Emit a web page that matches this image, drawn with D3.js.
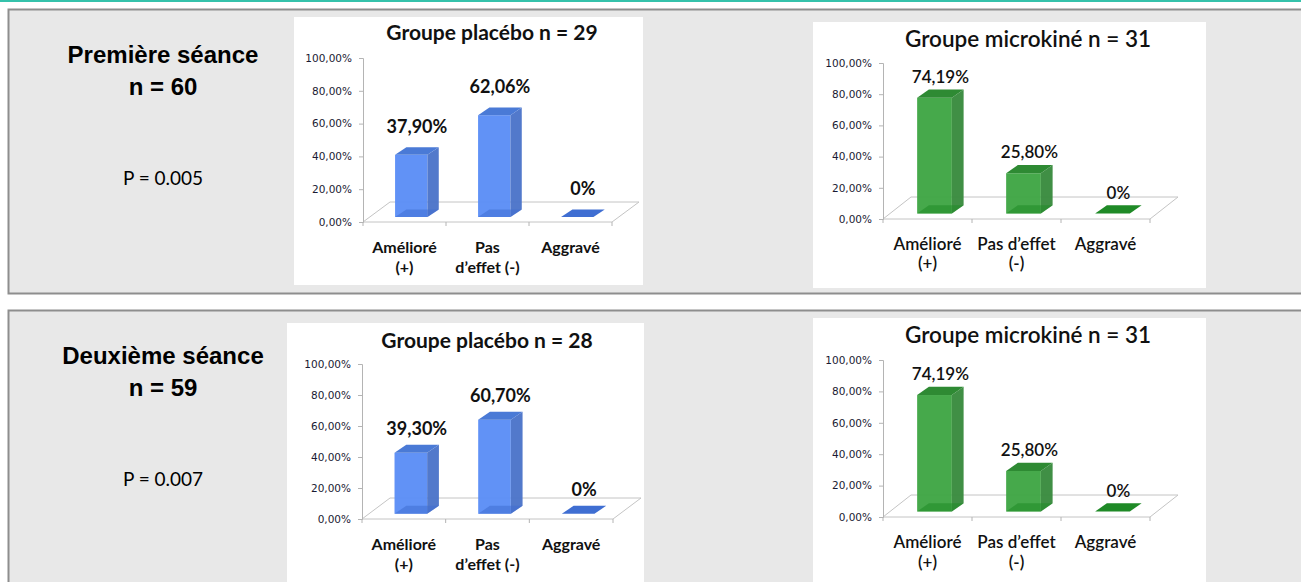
<!DOCTYPE html>
<html>
<head>
<meta charset="utf-8">
<script src="https://cdn.jsdelivr.net/npm/d3@7"></script>
<style>
  body { margin: 0; background: #fff; }
  svg { display: block; }
</style>
</head>
<body>
<div id="container"></div>
<script>
// data
const SESSIONS = ['Première séance', 'Deuxième séance'];
const SESSION_N = [60, 59];
const P_VALUES = ['0.005', '0.007'];

const PLACEBO_N = [29, 28];
const MICRO_N = [31, 31];

const CATS_PLACEBO = [['Amélioré', '(+)'], ['Pas', 'd’effet (-)'], ['Aggravé']];
const CATS_MICRO = [['Amélioré', '(+)'], ['Pas d’effet', '(-)'], ['Aggravé']];

const PLACEBO_1 = [37.90, 62.06, 0];
const MICRO_1 = [74.19, 25.80, 0];
const PLACEBO_2 = [39.30, 60.70, 0];
const MICRO_2 = [74.19, 25.80, 0];

const Y_TICKS = [0, 20, 40, 60, 80, 100];

const BLUE = { front: '#5b8ef6', side: '#4b74c9', top: '#4a7ad6', base: '#3f6ed2' };
const GREEN = { front: '#3ea544', side: '#388a3d', top: '#2e8a33', base: '#1f8a27' };

const svg = d3.select('#container').append('svg')
  .attr('width', 1301)
  .attr('height', 582);

// teal rule on top + the two grey panels
svg.append('rect').attr('x', 0).attr('y', 0).attr('width', 1301).attr('height', 2).attr('fill', '#35c2ab');

const panels = [{ y: 9.5, h: 284 }, { y: 310.5, h: 300 }];
svg.append('g')
  .selectAll('rect')
  .data(panels)
  .join('rect')
    .attr('x', 8.5)
    .attr('y', d => d.y)
    .attr('width', 1310)
    .attr('height', d => d.h)
    .attr('fill', '#e8e8e8')
    .attr('stroke', '#8e8e8e')
    .attr('stroke-width', 2);

const pct = v => d3.format('.2f')(v).replace('.', ',') + '%';
const valueLabel = v => v === 0 ? '0%' : pct(v);

// left-hand captions
const captions = [{ y: 63 }, { y: 364 }];
captions.forEach((c, i) => {
  const g = svg.append('g').attr('transform', `translate(163,${c.y})`);
  g.append('text')
    .attr('text-anchor', 'middle')
    .style('font', 'bold 24px "Liberation Sans", Arial, sans-serif')
    .text(SESSIONS[i]);
  g.append('text')
    .attr('y', 32)
    .attr('text-anchor', 'middle')
    .style('font', 'bold 24px "Liberation Sans", Arial, sans-serif')
    .text('n = ' + SESSION_N[i]);
  g.append('text')
    .attr('y', 122)
    .attr('text-anchor', 'middle')
    .style('font', '19px Lato, sans-serif')
    .text('P = ' + P_VALUES[i]);
});

function drawChart(o) {
  const g = svg.append('g');
  g.append('rect')
    .attr('x', o.box[0]).attr('y', o.box[1])
    .attr('width', o.box[2]).attr('height', o.box[3])
    .attr('fill', '#fff');

  g.append('text')
    .attr('x', o.titleAt[0]).attr('y', o.titleAt[1])
    .attr('text-anchor', 'middle')
    .style('font', o.titleFont)
    .attr('fill', '#111')
    .text(o.title);

  const x = d3.scaleBand().domain(d3.range(o.values.length)).range([o.x0, o.x1]);
  const y = d3.scaleLinear().domain([0, 100]).range([o.y0, o.y100]);
  const [dx, dy] = o.depth;

  // floor
  g.append('polygon')
    .attr('points', [[o.x0, o.y0], [o.x1, o.y0], [o.x1 + dx, o.y0 + dy], [o.x0 + dx, o.y0 + dy]].join(' '))
    .attr('fill', '#fff')
    .attr('stroke', '#c4c4c4')
    .attr('stroke-width', 1);

  // value axis
  const yAxis = d3.axisLeft(y)
    .tickValues(Y_TICKS)
    .tickSize(4)
    .tickPadding(7)
    .tickFormat(pct);
  const ya = g.append('g').attr('transform', `translate(${o.x0},0)`).call(yAxis);
  ya.select('.domain').attr('stroke', '#b4b4b4');
  ya.selectAll('.tick line').attr('stroke', '#b4b4b4');
  ya.selectAll('.tick text')
    .attr('fill', '#1a1a33')
    .style('font-family', '"DejaVu Sans", Verdana, sans-serif')
    .style('font-size', '10.5px');

  // category axis ticks under the floor
  g.append('g')
    .selectAll('line')
    .data(d3.range(o.values.length + 1))
    .join('line')
      .attr('x1', i => o.x0 + i * x.step())
      .attr('x2', i => o.x0 + i * x.step())
      .attr('y1', o.y0)
      .attr('y2', o.y0 + 4)
      .attr('stroke', '#b4b4b4');

  const f = 0.25;
  const bw = x.bandwidth() * 0.39;
  const bdx = dx * 0.42, bdy = dy * 0.38;
  const base = o.y0 + f * dy;

  const bars = g.append('g')
    .selectAll('g')
    .data(o.values)
    .join('g');

  bars.each(function (v, i) {
    const b = d3.select(this);
    const left = x(i) + (x.bandwidth() - bw) / 2 + f * dx;
    const right = left + bw;
    const top = y(v) + f * dy;
    if (v === 0) {
      b.append('polygon')
        .attr('points', [[left, base], [right, base], [right + bdx, base + bdy], [left + bdx, base + bdy]].join(' '))
        .attr('fill', o.palette.base);
      return;
    }
    b.append('rect')
      .attr('x', left).attr('y', top)
      .attr('width', bw).attr('height', base - top)
      .attr('fill', o.palette.front)
      .attr('fill-opacity', 0.96);
    b.append('polygon')
      .attr('points', [[right, top], [right + bdx, top + bdy], [right + bdx, base + bdy], [right, base]].join(' '))
      .attr('fill', o.palette.side)
      .attr('fill-opacity', 0.96);
    b.append('polygon')
      .attr('points', [[left, top], [left + bdx, top + bdy], [right + bdx, top + bdy], [right, top]].join(' '))
      .attr('fill', o.palette.top);
    b.append('polygon')
      .attr('points', [[left, base], [right, base], [right + bdx, base + bdy], [left + bdx, base + bdy]].join(' '))
      .attr('fill', o.palette.base)
      .attr('fill-opacity', 0.55);
  });

  // value labels
  g.append('g')
    .selectAll('text')
    .data(o.values)
    .join('text')
      .attr('x', (v, i) => x(i) + x.bandwidth() / 2 + f * dx + bdx / 2)
      .attr('y', v => y(v) + f * dy - o.labelGap)
      .attr('text-anchor', 'middle')
      .attr('fill', '#111')
      .style('font', o.valueFont)
      .text(valueLabel);

  // category labels
  const cl = g.append('g')
    .selectAll('text')
    .data(o.cats)
    .join('text')
      .attr('x', (c, i) => x(i) + x.bandwidth() / 2)
      .attr('y', o.y0 + 31)
      .attr('text-anchor', 'middle')
      .attr('fill', '#111')
      .style('font', o.catFont);
  cl.selectAll('tspan')
    .data(c => c)
    .join('tspan')
      .attr('x', function () { return d3.select(this.parentNode).attr('x'); })
      .attr('dy', (t, k) => k === 0 ? 0 : o.lineGap)
      .text(t => t);
}

const placeboTitleFont = 'bold 21px Lato, sans-serif';
const microTitleFont = '600 22.5px Lato, sans-serif';

drawChart({
  box: [294, 17, 349, 268], x0: 363, x1: 612, y0: 222, y100: 58, depth: [27, -20],
  title: 'Groupe placébo n = ' + PLACEBO_N[0], titleAt: [492, 40], titleFont: placeboTitleFont,
  values: PLACEBO_1, cats: CATS_PLACEBO, palette: BLUE, labelGap: 22, lineGap: 20,
  valueFont: 'bold 18px Lato, sans-serif', catFont: 'bold 16px Lato, sans-serif'
});
drawChart({
  box: [813, 22, 393, 266], x0: 883, x1: 1150, y0: 219, y100: 63, depth: [28, -22],
  title: 'Groupe microkiné n = ' + MICRO_N[0], titleAt: [1028, 47], titleFont: microTitleFont,
  values: MICRO_1, cats: CATS_MICRO, palette: GREEN, labelGap: 15, lineGap: 19,
  valueFont: '600 17px Lato, sans-serif', catFont: '600 17px Lato, sans-serif'
});
drawChart({
  box: [287, 323, 357, 270], x0: 362, x1: 613, y0: 519, y100: 364, depth: [28, -21],
  title: 'Groupe placébo n = ' + PLACEBO_N[1], titleAt: [487, 348], titleFont: placeboTitleFont,
  values: PLACEBO_2, cats: CATS_PLACEBO, palette: BLUE, labelGap: 18, lineGap: 20,
  valueFont: 'bold 18px Lato, sans-serif', catFont: 'bold 16px Lato, sans-serif'
});
drawChart({
  box: [813, 318, 393, 270], x0: 883, x1: 1150, y0: 517, y100: 360, depth: [28, -22],
  title: 'Groupe microkiné n = ' + MICRO_N[1], titleAt: [1028, 343], titleFont: microTitleFont,
  values: MICRO_2, cats: CATS_MICRO, palette: GREEN, labelGap: 15, lineGap: 20,
  valueFont: '600 17px Lato, sans-serif', catFont: '600 17px Lato, sans-serif'
});
</script>
</body>
</html>
